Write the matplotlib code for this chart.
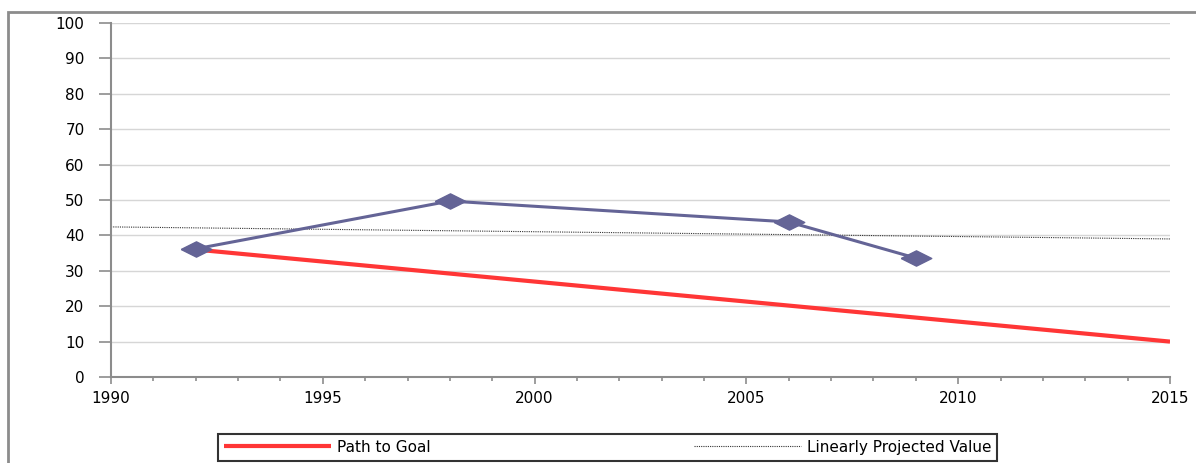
import matplotlib.pyplot as plt
from matplotlib.patches import Rectangle
from matplotlib.ticker import MultipleLocator

# values
years = [1992, 1998, 2006, 2009]
values = [36.2, 49.7, 43.8, 33.6]

goal_years = [1992, 2015]
goal_values = [36.0, 10.0]

trend_years = [1990, 2015]
trend_values = [42.4, 39.0]

fig = plt.figure(figsize=(11.96, 4.63), dpi=100)
ax = fig.add_axes([111 / 1196, 1 - 377 / 463, (1170 - 111) / 1196, (377 - 23) / 463])

# outer chart frame (cut off on the right and bottom)
fig.patches.append(Rectangle((8 / 1196, -0.1), 1.2, 1 - 12 / 463 + 0.1,
                             transform=fig.transFigure, fill=False,
                             edgecolor='#8c8c8c', linewidth=2, zorder=0))

ax.plot(goal_years, goal_values, color='#ff3636', linewidth=3.0,
        label='Path to Goal', zorder=3, solid_capstyle='butt')
ax.plot(trend_years, trend_values, color='#333333', linewidth=0.8,
        linestyle=(0, (1, 1)), label='Linearly Projected Value', zorder=2)
diamond = [(-2, 0), (0, 1), (2, 0), (0, -1), (-2, 0)]
ax.plot(years, values, color='#646496', linewidth=2.2, marker=diamond,
        markersize=22, markerfacecolor='#646496', markeredgecolor='#646496',
        zorder=4)

ax.set_xlim(1990, 2015)
ax.set_ylim(0, 100)
ax.xaxis.set_major_locator(MultipleLocator(5))
ax.xaxis.set_minor_locator(MultipleLocator(1))
ax.yaxis.set_major_locator(MultipleLocator(10))

ax.grid(axis='y', color='#d6d6d6', linewidth=1)
ax.set_axisbelow(True)
for s in ['top', 'right']:
    ax.spines[s].set_visible(False)
for s in ['left', 'bottom']:
    ax.spines[s].set_color('#8c8c8c')
    ax.spines[s].set_linewidth(1.5)

ax.tick_params(axis='y', direction='out', length=9, width=1.2, color='#8c8c8c',
               labelsize=11, pad=10)
ax.tick_params(axis='x', which='major', direction='out', length=5, width=1.2,
               color='#8c8c8c', labelsize=11, pad=5)
ax.tick_params(axis='x', which='minor', direction='out', length=3, width=1.2,
               color='#8c8c8c')

leg = fig.legend(loc='lower left', ncol=2, mode='expand',
                 bbox_to_anchor=(210 / 1196, -0.012, 795 / 1196, 0.1),
                 frameon=True, fancybox=False, edgecolor='black',
                 fontsize=11, handlelength=7, handletextpad=0.4,
                 borderpad=0.4)
leg.get_frame().set_linewidth(1.5)

fig.savefig('out.png', dpi=100)
